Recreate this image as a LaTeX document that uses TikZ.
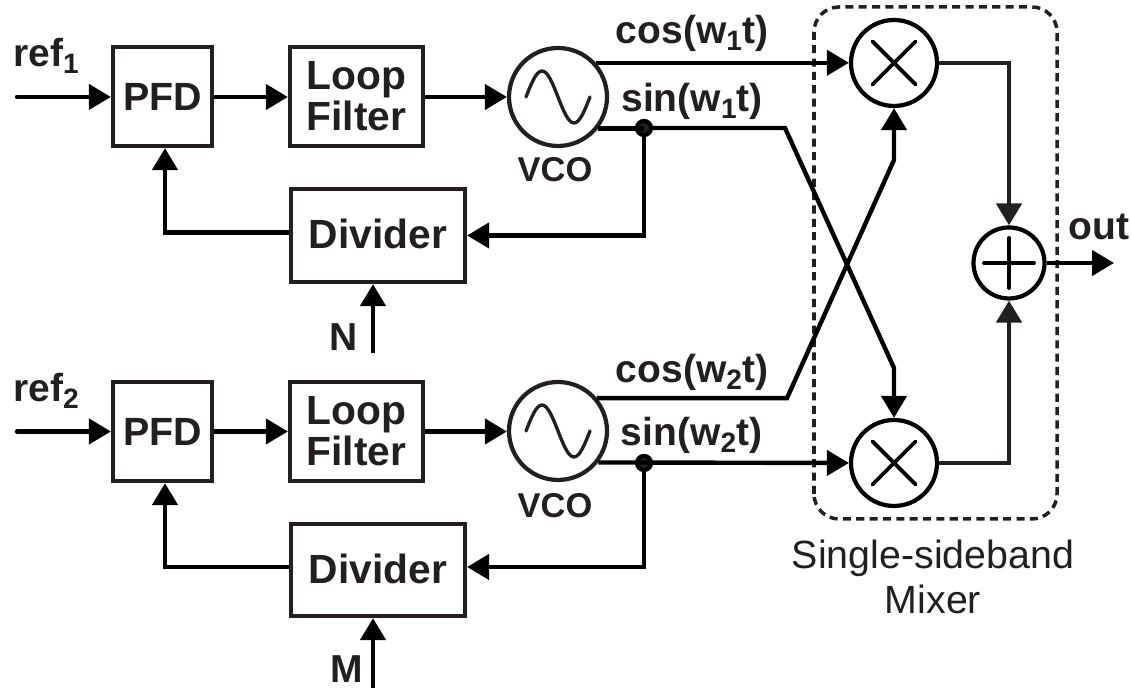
\documentclass[tikz,border=0pt]{standalone}
\usepackage{fontspec}
\setmainfont{Liberation Sans}
\usetikzlibrary{arrows.meta}
\definecolor{inkgray}{HTML}{231F20}
\newcommand{\lowidx}[1]{\raisebox{-0.35ex}{\fontsize{8}{8}\selectfont #1}}
\tikzset{
	wire/.style={line width=1.25pt, -{Triangle[length=0.22cm,width=0.25cm]}},
	thickwire/.style={wire, line width=1.35pt, color=inkgray},
	plainwire/.style={line width=1.25pt},
	blockbox/.style={draw=inkgray, text=inkgray, line width=1.2pt, inner sep=0pt, align=center, font=\fontsize{11.6}{11.7}\selectfont\bfseries},
	lbl/.style={inner sep=0pt, text=inkgray, font=\fontsize{11.1}{12}\selectfont\bfseries},
	vcolbl/.style={inner sep=0pt, text=inkgray, font=\fontsize{9.8}{12}\selectfont\bfseries},
	vcocirc/.style={draw=inkgray, circle, line width=1.2pt, inner sep=0pt, minimum size=0.98cm},
	mixcirc/.style={draw, circle, line width=1.2pt, inner sep=0pt, minimum size=0.86cm,
		path picture={\draw[line width=1.1pt, line cap=round]
			([shift={(-0.215,-0.215)}]path picture bounding box.center) -- ([shift={(0.215,0.215)}]path picture bounding box.center)
			([shift={(-0.215,0.215)}]path picture bounding box.center) -- ([shift={(0.215,-0.215)}]path picture bounding box.center);}},
	sumcirc/.style={draw, circle, line width=1.2pt, inner sep=0pt, minimum size=0.71cm,
		path picture={\draw[line width=1.1pt, line cap=round]
			([xshift=-0.25cm]path picture bounding box.center) -- ([xshift=0.25cm]path picture bounding box.center)
			([yshift=-0.25cm]path picture bounding box.center) -- ([yshift=0.25cm]path picture bounding box.center);}},
	dotnode/.style={circle, fill=inkgray, draw=black, line width=1.2pt, inner sep=0pt, minimum size=0.14cm},
	wave/.style={line width=0.95pt, color=inkgray, line cap=round}
}
\begin{document}
\begin{tikzpicture}
	\useasboundingbox (0,0) rectangle (11.31,6.88);
	% Blocks of the upper loop:
	\node[blockbox, minimum width=0.99cm, minimum height=0.99cm, font=\fontsize{11.2}{12}\selectfont\bfseries] (pfda) at (1.625,5.915) {PFD};
	\node[blockbox, minimum width=1.33cm, minimum height=0.99cm] (filta) at (3.565,5.915) {Loop\\Filter};
	\node[vcocirc] (vcoa) at (5.58,5.91) {};
	\node[blockbox, minimum width=1.74cm, minimum height=0.93cm] (diva) at (3.78,4.525) {\raisebox{0.035cm}{Divider}};
	\node[dotnode] (dota) at (6.44,5.6) {};
	% Blocks of the lower loop:
	\node[blockbox, minimum width=0.99cm, minimum height=0.99cm, font=\fontsize{11.2}{12}\selectfont\bfseries] (pfdb) at (1.625,2.565) {PFD};
	\node[blockbox, minimum width=1.33cm, minimum height=0.99cm] (filtb) at (3.565,2.565) {Loop\\Filter};
	\node[vcocirc] (vcob) at (5.58,2.57) {};
	\node[blockbox, minimum width=1.74cm, minimum height=0.92cm] (divb) at (3.78,1.18) {\raisebox{0.035cm}{Divider}};
	\node[dotnode] (dotb) at (6.44,2.25) {};
	% Mixer:
	\node[mixcirc] (mixa) at (8.94,6.25) {};
	\node[mixcirc] (mixb) at (8.94,2.25) {};
	\node[sumcirc] (sum) at (10.09,4.25) {};
	\draw[line width=1pt, color=inkgray, dash pattern=on 2.3pt off 1.5pt, rounded corners=0.25cm] (8.14,1.69) rectangle (10.57,6.81);
	% Free ends and bends:
	\coordinate (refa) at (0.17,5.91);
	\coordinate (refb) at (0.17,2.565);
	\coordinate (nin) at (3.73,3.35);
	\coordinate (min) at (3.73,0);
	\coordinate (outp) at (11.14,4.25);
	\coordinate (benda) at (7.85,5.6);
	\coordinate (bendb) at (8.94,3.2);
	\coordinate (bendc) at (7.87,2.9);
	\coordinate (bendd) at (8.94,5.28);
	% Wires:
	\draw[wire, line cap=round] (refa) -- (pfda.west |- refa);
	\draw[wire] (pfda.east |- refa) -- (filta.west |- refa);
	\draw[wire] (filta.east |- refa) -- (vcoa.west |- refa);
	\draw[wire] (vcoa.42) -- (vcoa.42 -| mixa.west);
	\draw[plainwire] (vcoa.-38) -- (vcoa.-38 -| dota);
	\draw[wire] (dota) |- (diva.east);
	\draw[wire] ([yshift=0.03cm]diva.west) -| ([xshift=0.025cm]pfda.south);
	\draw[wire] (nin) -- (nin |- diva.south);
	\draw[wire, line join=miter] (dota) -- (benda) -- (bendb) -- (mixb.north);
	\draw[wire, line cap=round] (refb) -- (pfdb.west |- refb);
	\draw[wire] (pfdb.east |- refb) -- (filtb.west |- refb);
	\draw[wire] (filtb.east |- refb) -- (vcob.west |- refb);
	\draw[wire] (vcob.-38.5) -- (mixb.west);
	\draw[wire] (dotb) |- ([yshift=0.03cm]divb.east);
	\draw[wire] ([yshift=0.03cm]divb.west) -| ([xshift=0.025cm]pfdb.south);
	\draw[wire] (min) -- (min |- divb.south);
	\draw[wire, line join=miter] (vcob.40) -- (vcob.40 -| bendc) -- (bendd) -- (mixa.south);
	\draw[thickwire] (mixa.east) -| (sum.north);
	\draw[thickwire] (mixb.east) -| (sum.south);
	\draw[wire] (sum.east) -- (outp);
	% Sine waves in the VCOs:
	\draw[wave] ([xshift=-0.32cm]vcoa.center) sin ++(0.16,0.26) cos ++(0.16,-0.26) sin ++(0.16,-0.26) cos ++(0.16,0.26);
	\draw[wave] ([xshift=-0.32cm]vcob.center) sin ++(0.16,0.26) cos ++(0.16,-0.26) sin ++(0.16,-0.26) cos ++(0.16,0.26);
	% Labels:
	\node[lbl] (lrefa) at (0.46,6.32) {ref\lowidx{1}};
	\node[lbl] (lrefb) at (0.46,2.97) {ref\lowidx{2}};
	\node[vcolbl] (lvcoa) at (5.55,5.185) {VCO};
	\node[vcolbl] (lvcob) at (5.55,1.825) {VCO};
	\node[lbl] (lcosa) at (6.92,6.55) {cos(w\lowidx{1}t)};
	\node[lbl] (lsina) at (6.92,5.87) {sin(w\lowidx{1}t)};
	\node[lbl] (lcosb) at (6.92,3.16) {cos(w\lowidx{2}t)};
	\node[lbl] (lsinb) at (6.915,2.53) {sin(w\lowidx{2}t)};
	\node[lbl] (ln) at (3.44,3.51) {N};
	\node[lbl] (lm) at (3.465,0.19) {M};
	\node[lbl] (lout) at (10.99,4.61) {out};
	\node[font=\fontsize{11.2}{12.8}\selectfont, text=inkgray, align=center, inner sep=0pt] (lmix) at (9.33,1.11) {Single-sideband\\Mixer};
\end{tikzpicture}
\end{document}
